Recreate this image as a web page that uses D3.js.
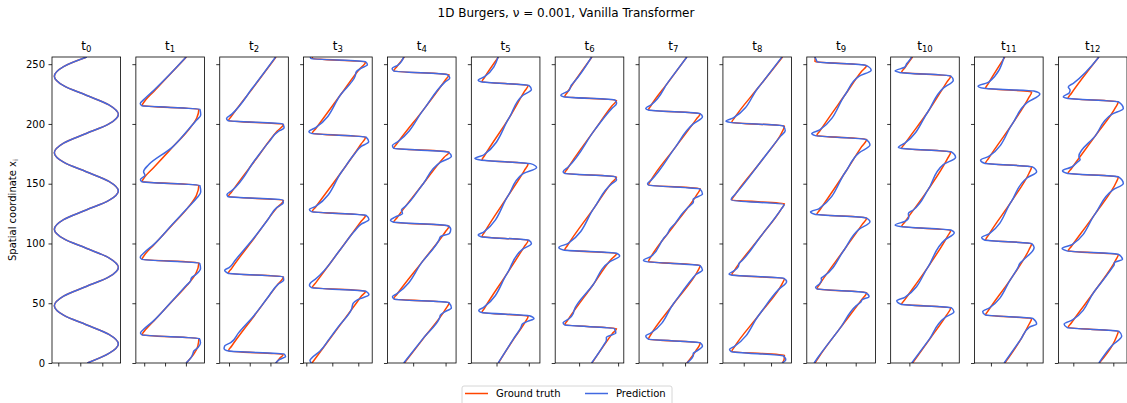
<!DOCTYPE html>
<html>
<head>
<meta charset="utf-8">
<script src="https://cdn.jsdelivr.net/npm/d3@7/dist/d3.min.js"></script>
<style>
body { margin: 0; background: #fff; }
svg { font-family: "DejaVu Sans", sans-serif; }
</style>
</head>
<body>
<svg id="chart" width="1127" height="403"></svg>
<script>

// each series: [spatial coordinate x_i, u]
var gt0 = [[0,0.32],[8,1.30],[16,1.73],[24,1.30],[32,0.27],[40,-0.76],[48,-1.18],[56,-0.76],[64,0.27],[72,1.30],[80,1.73],[88,1.30],[96,0.27],[104,-0.76],[112,-1.18],[120,-0.76],[128,0.27],[136,1.30],[144,1.73],[152,1.30],[160,0.27],[168,-0.76],[176,-1.18],[184,-0.76],[192,0.27],[200,1.30],[208,1.73],[216,1.30],[224,0.27],[232,-0.76],[240,-1.18],[248,-0.76],[256,0.30]];
var pred0 = gt0;

var gt1 = [[0,1.02],[8,1.40],[14,1.57],[20.5,1.62],[23.5,-1.10],[27,-0.98],[35,-0.55],[50,0.25],[65,1.05],[75,1.48],[83.8,1.62],[86.8,-1.10],[90.5,-0.98],[99,-0.53],[115,0.32],[130,1.10],[140,1.50],[148.7,1.62],[151.7,-1.10],[155.5,-0.98],[164,-0.52],[180,0.33],[195,1.12],[205,1.52],[212.3,1.62],[215.3,-1.10],[219,-0.98],[227,-0.55],[243,0.32],[256,1.02]];
var pred1 = [[0,1.01],[5,1.26],[7.5,1.33],[10,1.38],[13,1.58],[17,1.70],[20.5,1.64],[23.5,-1.10],[25,-1.18],[28,-1.04],[35,-0.57],[50,0.24],[65,1.03],[68.5,1.22],[71,1.26],[74,1.48],[79,1.70],[83.5,1.66],[86.8,-1.12],[88.5,-1.19],[92,-1.02],[99,-0.55],[115,0.30],[130,1.10],[138,1.52],[143,1.71],[148.5,1.67],[151.7,-1.12],[153.5,-1.18],[157,-0.96],[160,-1.03],[166,-0.78],[180,0.31],[195,1.10],[203,1.50],[207.5,1.71],[212.3,1.67],[215.3,-1.12],[217,-1.19],[221,-0.98],[228,-0.55],[243,0.31],[256,1.01]];

var gt2 = [[0,1.27],[4,1.45],[7.1,1.62],[10.1,-1.03],[14,-0.88],[40,0.24],[66,1.36],[72.1,1.63],[75.1,-1.03],[79,-0.88],[105,0.24],[130,1.32],[136.2,1.63],[139.2,-1.03],[143,-0.88],[170,0.28],[194,1.33],[199.7,1.63],[202.7,-1.03],[206.5,-0.88],[230,0.15],[256,1.27]];
var pred2 = [[0,1.25],[3,1.45],[5.5,1.73],[7.5,1.66],[10,-1.00],[12,-1.24],[14.5,-1.20],[17,-0.92],[25,-0.55],[40,0.22],[55,0.88],[66,1.38],[69.4,1.64],[72,1.62],[75.1,-1.05],[77.5,-1.21],[80,-0.98],[86,-0.70],[105,0.22],[120,0.88],[130,1.30],[134,1.62],[136.5,1.60],[139.2,-1.05],[141,-1.10],[144,-0.88],[170,0.26],[185,0.93],[194,1.40],[196.5,1.66],[200,1.60],[202.7,-1.05],[204.5,-1.12],[208,-0.88],[230,0.13],[256,1.25]];

var gt3 = [[0,-0.78],[10,-0.44],[30,0.24],[50,0.92],[56,1.12],[60.1,1.28],[63.1,-0.77],[67,-0.64],[95,0.31],[118,1.09],[123.6,1.28],[126.6,-0.77],[130.5,-0.64],[160,0.36],[183,1.10],[189.1,1.28],[192.1,-0.77],[196,-0.64],[225,0.34],[246,1.05],[251.8,1.28],[254.8,-0.77],[256,-0.76]];
var pred3 = [[0,-0.80],[2,-0.86],[4,-0.80],[10,-0.47],[20,-0.12],[30,0.22],[45,0.74],[49.9,0.80],[53,0.98],[57,1.41],[60,1.30],[63.1,-0.80],[65,-0.88],[67,-0.84],[70,-0.66],[95,0.31],[110,0.84],[116,1.10],[120,1.41],[123.5,1.30],[126.6,-0.80],[128.5,-0.88],[131,-0.64],[160,0.36],[175,0.86],[181,1.10],[185,1.40],[189,1.30],[192.1,-0.80],[193.5,-0.90],[197,-0.64],[225,0.34],[240,0.88],[243.5,0.92],[246.5,1.10],[249.5,1.35],[252,1.28],[254.8,-0.82],[256,-0.85]];

var gt4 = [[0,-0.27],[20,0.30],[45,1.00],[50.6,1.11],[53.6,-0.60],[57.5,-0.50],[85,0.29],[110,1.00],[114.7,1.11],[117.7,-0.60],[121.5,-0.50],[150,0.31],[172,0.95],[176.6,1.11],[179.6,-0.60],[183.5,-0.50],[212,0.32],[237,1.00],[241.3,1.11],[244.3,-0.60],[248,-0.50],[256,-0.27]];
var pred4 = [[0,-0.29],[20,0.29],[38,0.82],[40,0.84],[43,0.99],[46,1.18],[50.5,1.10],[53.5,-0.58],[55.5,-0.64],[58,-0.50],[85,0.29],[103,0.80],[105.6,0.84],[108.5,1.12],[112,1.16],[115,1.05],[118,-0.62],[119.5,-0.70],[122,-0.56],[125,-0.33],[128,-0.36],[131,-0.24],[150,0.31],[168,0.85],[173,1.18],[176.5,1.08],[179.6,-0.60],[182,-0.64],[185,-0.48],[212,0.32],[235,0.98],[238.5,1.13],[241.3,1.05],[244.3,-0.60],[246.4,-0.65],[249,-0.48],[256,-0.29]];

var gt5 = [[0,0.06],[20,0.53],[34,0.88],[39.2,0.98],[42.2,-0.45],[46,-0.37],[75,0.33],[97,0.85],[102.7,0.98],[105.7,-0.45],[109.5,-0.37],[140,0.36],[161,0.86],[166.8,0.98],[169.8,-0.45],[173.5,-0.37],[205,0.39],[227,0.86],[232.3,0.98],[235.3,-0.45],[239,-0.37],[256,0.06]];
var pred5 = [[0,0.05],[20,0.52],[30,0.76],[32.6,0.80],[35,0.98],[37,1.16],[39.5,1.02],[42.2,-0.45],[44,-0.55],[46.5,-0.40],[75,0.33],[95,0.80],[100,1.08],[102.7,1.00],[105.7,-0.48],[107,-0.57],[109.5,-0.40],[140,0.36],[158,0.80],[163.6,1.24],[166.8,1.05],[169.8,-0.50],[171,-0.67],[174,-0.40],[205,0.39],[224,0.82],[228.8,1.08],[232.3,1.00],[235.3,-0.48],[236.5,-0.57],[239.5,-0.37],[256,0.05]];

var gt6 = [[0,0.33],[20,0.75],[24.5,0.85],[28.9,0.96],[31.9,-0.37],[35.5,-0.30],[65,0.35],[87,0.83],[91.6,0.96],[94.6,-0.37],[98.3,-0.30],[130,0.39],[151,0.84],[155.7,0.96],[158.7,-0.37],[162.5,-0.30],[195,0.40],[215,0.84],[219.8,0.96],[222.8,-0.37],[226.5,-0.30],[256,0.33]];
var pred6 = [[0,0.32],[15,0.63],[19,0.70],[21.5,0.70],[25,0.94],[28.9,0.90],[31.9,-0.37],[33.7,-0.41],[37,-0.26],[41.5,-0.15],[44,-0.13],[65,0.35],[85,0.80],[89.5,1.04],[92,0.94],[94.6,-0.40],[96.7,-0.52],[100,-0.28],[130,0.39],[150,0.84],[153,0.96],[156,0.92],[158.7,-0.37],[160,-0.41],[164,-0.28],[195,0.40],[213,0.84],[217,0.96],[220,0.92],[222.8,-0.40],[224,-0.47],[228,-0.26],[232.4,-0.20],[235,-0.13],[256,0.32]];

var gt7 = [[0,1.08],[10,1.47],[16.9,1.67],[19.9,-0.62],[23.5,-0.52],[50,0.51],[77,1.56],[81.8,1.67],[84.8,-0.62],[88.5,-0.52],[115,0.51],[141,1.53],[145.9,1.67],[148.9,-0.62],[152.5,-0.52],[180,0.55],[204,1.50],[208.6,1.67],[211.6,-0.62],[215,-0.52],[235,0.26],[256,1.08]];
var pred7 = [[0,1.08],[6.7,1.37],[8,1.36],[9.5,1.47],[14.2,1.77],[17,1.66],[19.9,-0.62],[22.6,-0.74],[25,-0.52],[50,0.50],[70,1.30],[74,1.48],[77.8,1.77],[81.5,1.66],[84.8,-0.70],[86,-0.84],[89,-0.52],[104,0.04],[108,0.22],[112,0.33],[116.8,0.56],[125,0.88],[130,1.12],[134.9,1.37],[137,1.36],[141.3,1.77],[145.5,1.66],[148.9,-0.62],[150,-0.66],[153,-0.50],[180,0.55],[200,1.36],[206,1.77],[208.6,1.66],[211.6,-0.62],[212.9,-0.74],[216,-0.50],[235,0.25],[256,1.08]];

var gt8 = [[0,1.42],[3,1.48],[6.6,1.49],[9.6,-0.44],[13.5,-0.34],[40,0.55],[66,1.40],[70.7,1.49],[73.7,-0.44],[77.5,-0.34],[105,0.59],[129,1.38],[133.4,1.49],[136.4,-0.44],[140,-0.34],[170,0.68],[193,1.40],[198.3,1.49],[201.3,-0.44],[205,-0.34],[230,0.52],[256,1.42]];
var pred8 = [[0,1.40],[2.5,1.54],[6,1.45],[9.6,-0.46],[11.4,-0.52],[14,-0.34],[40,0.55],[62,1.30],[68,1.57],[71,1.46],[73.7,-0.46],[74.4,-0.54],[77,-0.36],[80.5,-0.20],[83.3,-0.17],[86,-0.05],[105,0.59],[129,1.38],[132.5,1.48],[136.4,-0.46],[138,-0.44],[141,-0.32],[170,0.68],[190,1.36],[194.3,1.52],[198.3,1.45],[201.3,-0.50],[202.3,-0.65],[205,-0.38],[230,0.52],[256,1.40]];

var gt9 = [[0,-0.37],[5,-0.24],[30,0.50],[53,1.20],[59,1.37],[62,-0.31],[66,-0.21],[95,0.62],[116,1.22],[121.4,1.37],[124.4,-0.31],[128,-0.21],[160,0.66],[181,1.20],[187.2,1.37],[190.2,-0.31],[194,-0.21],[225,0.66],[244,1.20],[249.1,1.37],[252.1,-0.37],[256,-0.36]];
var pred9 = [[0,-0.40],[5,-0.26],[30,0.50],[48,1.02],[51.3,1.18],[53,1.22],[55.5,1.45],[59,1.32],[62,-0.30],[63.3,-0.35],[66,-0.22],[69.4,-0.15],[71,-0.16],[72.2,-0.09],[95,0.62],[112,1.12],[118.2,1.48],[121.4,1.34],[124.4,-0.38],[126.5,-0.52],[129,-0.24],[160,0.66],[176,1.12],[182.3,1.48],[187,1.34],[190.2,-0.36],[192,-0.48],[195,-0.21],[225,0.66],[240,1.12],[245,1.52],[249,1.34],[252.1,-0.30],[253.9,-0.33],[256,-0.38]];

var gt10 = [[0,0.10],[20,0.63],[40,1.15],[46.2,1.28],[49.2,-0.24],[53,-0.14],[80,0.57],[106,1.18],[111.1,1.28],[114.1,-0.24],[118,-0.14],[145,0.58],[171,1.18],[176.6,1.28],[179.6,-0.24],[183.5,-0.14],[210,0.57],[235,1.16],[240.1,1.28],[243.1,-0.24],[247,-0.14],[256,0.10]];
var pred10 = [[0,0.07],[20,0.62],[38,1.10],[42.9,1.38],[46.2,1.30],[49.2,-0.26],[52.1,-0.39],[55,-0.14],[80,0.57],[103,1.10],[109,1.39],[111.1,1.30],[114.1,-0.28],[115.4,-0.44],[118.5,-0.14],[122,-0.02],[125.1,-0.03],[128,0.12],[145,0.58],[166,1.05],[172,1.43],[176.6,1.30],[179.6,-0.26],[180.3,-0.34],[184,-0.14],[210,0.57],[230,1.05],[236.6,1.36],[240.1,1.28],[243.1,-0.30],[244.4,-0.44],[247.5,-0.14],[250.6,-0.08],[253,0.00],[256,0.07]];

var gt11 = [[0,0.39],[20,0.84],[32,1.06],[37.2,1.14],[40.2,-0.15],[44,-0.07],[70,0.55],[95,1.07],[99.9,1.14],[102.9,-0.15],[107,-0.07],[135,0.57],[159,1.07],[164.1,1.14],[167.1,-0.15],[171,-0.07],[200,0.60],[222,1.06],[226.8,1.14],[229.8,-0.15],[234,-0.07],[256,0.39]];
var pred11 = [[0,0.37],[20,0.84],[30,1.08],[32.6,1.28],[37.2,1.18],[40.2,-0.16],[42.9,-0.23],[46,-0.05],[70,0.55],[80,0.76],[83.3,0.81],[86,0.90],[96.7,1.21],[99.9,1.14],[102.9,-0.18],[105,-0.26],[108,-0.05],[135,0.57],[155,1.02],[160,1.28],[164.1,1.16],[167.1,-0.18],[169.7,-0.29],[173,-0.05],[200,0.60],[218,1.02],[225,1.37],[227.5,1.20],[229.8,-0.20],[231.6,-0.36],[235,-0.06],[256,0.37]];

var gt12 = [[0,0.65],[15,0.98],[22,1.08],[26.6,1.125],[29.6,-0.13],[33.5,-0.05],[60,0.53],[86,1.06],[90.8,1.125],[93.8,-0.13],[97.5,-0.05],[125,0.55],[151,1.07],[155.7,1.125],[158.7,-0.13],[162.5,-0.05],[190,0.55],[214,1.06],[218.5,1.125],[221.5,-0.13],[225.5,-0.05],[256,0.64]];
var pred12 = [[0,0.64],[15,0.98],[22.6,1.21],[26.6,1.14],[29.6,-0.15],[32.6,-0.23],[36,-0.02],[60,0.53],[80,0.98],[82,1.02],[84,1.03],[86.7,1.23],[90.8,1.13],[93.8,-0.16],[95.9,-0.28],[99,-0.03],[125,0.55],[145,1.00],[150.2,1.25],[155.7,1.13],[158.7,-0.16],[160.8,-0.27],[164,-0.04],[168,0.10],[170,0.17],[173,0.14],[190,0.55],[208,0.96],[213,1.25],[218.5,1.13],[221.5,-0.16],[222.7,-0.25],[226,-0.10],[228.3,-0.08],[231,-0.125],[234,0.00],[256,0.64]];

var groundTruth = [gt0, gt1, gt2, gt3, gt4, gt5, gt6, gt7, gt8, gt9, gt10, gt11, gt12];
var prediction = [pred0, pred1, pred2, pred3, pred4, pred5, pred6, pred7, pred8, pred9, pred10, pred11, pred12];

// per panel u limits and x ticks (no labels shown)
var xDomains = [[-1.286,1.832],[-1.40,1.89],[-1.449,1.865],[-1.104,1.535],[-0.793,1.324],[-0.780,1.344],[-0.613,1.146],[-1.035,2.00],[-0.762,1.751],[-0.646,1.663],[-0.579,1.545],[-0.459,1.462],[-0.3725,1.3425]];
var xTicks = [[-1,0,1],[-1,0,1],[-1,0,1],[-1,0,1],[0,1],[0,1],[0,1],[0,1],[0,1],[0,1],[0,1],[0,1],[0,1]];
var yDomain = [0, 256];
var yTicks = [0, 50, 100, 150, 200, 250];
var timeSteps = d3.range(13);
var seriesNames = ["Ground truth", "Prediction"];

var colors = {gt: "#ff4500", pred: "#4169e1"};

var svg = d3.select("#chart");
var width = +svg.attr("width");

var plotTop = 57, plotBottom = 363;
var band = d3.scaleBand().domain(timeSteps).range([52, 1127]).paddingInner(0.182);
var y = d3.scaleLinear().domain(yDomain).range([plotBottom, plotTop]);

svg.append("rect").attr("width", width).attr("height", 403).attr("fill", "#fff");

svg.append("text")
    .attr("x", 566).attr("y", 17)
    .attr("text-anchor", "middle")
    .attr("font-size", 12)
    .text("1D Burgers, \u03bd = 0.001, Vanilla Transformer");

var defs = svg.append("defs");

timeSteps.forEach(function(t, i){
    var x0 = band(t);
    var bw = band.bandwidth();
    var x = d3.scaleLinear().domain(xDomains[i]).range([x0, x0 + bw]);
    var g = svg.append("g").attr("class", "panel");

    defs.append("clipPath").attr("id", "clip" + i)
        .append("rect")
        .attr("x", x0).attr("y", plotTop)
        .attr("width", bw).attr("height", plotBottom - plotTop);

    var line = d3.line()
        .x(function(d){ return x(d[1]); })
        .y(function(d){ return y(d[0]); })
        .curve(d3.curveMonotoneY);

    var curves = g.append("g").attr("clip-path", "url(#clip" + i + ")");
    curves.append("path")
        .datum(groundTruth[i])
        .attr("d", line)
        .attr("fill", "none")
        .attr("stroke", colors.gt)
        .attr("stroke-width", 1.5);
    curves.append("path")
        .datum(prediction[i])
        .attr("d", line)
        .attr("fill", "none")
        .attr("stroke", colors.pred)
        .attr("stroke-width", 1.5);

    // axes
    var yAxis = d3.axisLeft(y).tickValues(yTicks).tickSize(3.5).tickPadding(3.5).tickSizeOuter(0);
    if (i > 0) yAxis.tickFormat("");
    var ya = g.append("g").attr("transform", "translate(" + x0 + ",0)").call(yAxis);
    ya.select(".domain").remove();
    ya.selectAll("text").attr("font-size", 10).attr("font-family", "DejaVu Sans").attr("fill", "#000");
    ya.selectAll("line").attr("stroke-width", 0.8);

    var xAxis = d3.axisBottom(x).tickValues(xTicks[i]).tickSize(3.5).tickFormat("").tickSizeOuter(0);
    var xa = g.append("g").attr("transform", "translate(0," + plotBottom + ")").call(xAxis);
    xa.select(".domain").remove();
    xa.selectAll("line").attr("stroke-width", 0.8);

    g.append("rect")
        .attr("x", x0).attr("y", plotTop)
        .attr("width", bw).attr("height", plotBottom - plotTop)
        .attr("fill", "none")
        .attr("stroke", "#000")
        .attr("stroke-width", 0.8);

    var title = g.append("text")
        .attr("x", x0 + bw / 2).attr("y", 50)
        .attr("text-anchor", "middle")
        .attr("font-size", 12);
    title.append("tspan").text("t");
    title.append("tspan").attr("font-size", 8.5).attr("dy", 2).text(t);
});

// y label
var ylab = svg.append("text")
    .attr("transform", "translate(16," + ((plotTop + plotBottom) / 2) + ") rotate(-90)")
    .attr("text-anchor", "middle")
    .attr("font-size", 10);
ylab.append("tspan").text("Spatial coordinate x");
ylab.append("tspan").attr("font-size", 7).attr("dy", 2).text("i");

// legend
var leg = svg.append("g").attr("transform", "translate(462,386)");
leg.append("rect")
    .attr("width", 210).attr("height", 22).attr("rx", 2)
    .attr("fill", "#fff").attr("stroke", "#cccccc").attr("stroke-width", 0.8);
var items = [{name: seriesNames[0], color: colors.gt, x: 3}, {name: seriesNames[1], color: colors.pred, x: 123}];
items.forEach(function(it){
    leg.append("line")
        .attr("x1", it.x).attr("x2", it.x + 23)
        .attr("y1", 7.5).attr("y2", 7.5)
        .attr("stroke", it.color).attr("stroke-width", 1.5);
    leg.append("text")
        .attr("x", it.x + 31).attr("y", 11)
        .attr("font-size", 10)
        .text(it.name);
});

</script>
</body>
</html>
